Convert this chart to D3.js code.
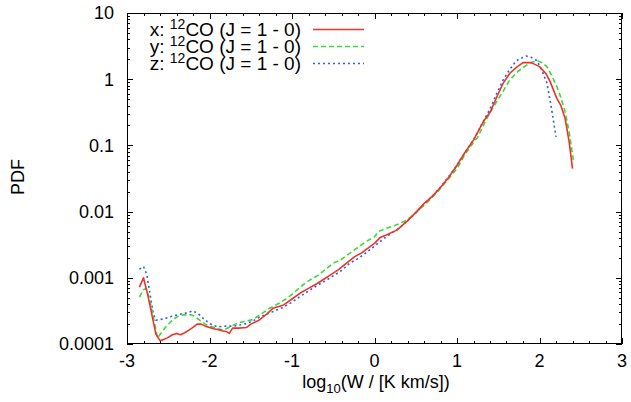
<!DOCTYPE html>
<html><head><meta charset="utf-8">
<script src="https://cdn.jsdelivr.net/npm/d3@7"></script>
<style>body{margin:0;background:#fff}svg{display:block}</style>
</head><body><svg id="c" width="631" height="402"></svg>
<script>
// log10(W) positions and log10(PDF) values
const xW = [-2.85,-2.80,-2.75,-2.70,-2.65,-2.60,-2.55,-2.50,-2.45,-2.40,-2.35,-2.30,-2.25,-2.20,-2.15,-2.10,-2.05,-2.00,-1.95,-1.90,-1.85,-1.80,-1.76,-1.72,-1.65,-1.55,-1.50,-1.40,-1.30,-1.23,-1.10,-1.00,-0.90,-0.80,-0.70,-0.60,-0.50,-0.44,-0.35,-0.24,-0.15,-0.10,0.00,0.07,0.15,0.27,0.40,0.51,0.60,0.70,0.81,0.90,1.00,1.10,1.20,1.32,1.40,1.50,1.56,1.64,1.72,1.80,1.90,2.00,2.08,2.13,2.21,2.26,2.31,2.36,2.40];
const xLogPdf = [-3.14,-3.00,-3.25,-3.55,-3.85,-3.95,-3.93,-3.90,-3.86,-3.84,-3.86,-3.83,-3.79,-3.75,-3.70,-3.70,-3.73,-3.75,-3.77,-3.78,-3.80,-3.81,-3.84,-3.76,-3.76,-3.75,-3.70,-3.64,-3.54,-3.46,-3.41,-3.32,-3.23,-3.16,-3.09,-3.01,-2.93,-2.88,-2.79,-2.68,-2.62,-2.57,-2.48,-2.39,-2.35,-2.28,-2.14,-2.00,-1.88,-1.77,-1.62,-1.48,-1.30,-1.10,-0.92,-0.64,-0.50,-0.22,-0.06,0.09,0.18,0.25,0.25,0.19,0.08,-0.04,-0.29,-0.40,-0.59,-0.95,-1.35];

const yW = [-2.85,-2.80,-2.77,-2.73,-2.68,-2.63,-2.56,-2.50,-2.44,-2.38,-2.32,-2.22,-2.17,-2.12,-2.05,-2.00,-1.90,-1.83,-1.75,-1.67,-1.58,-1.47,-1.38,-1.27,-1.15,-1.05,-0.98,-0.88,-0.78,-0.68,-0.58,-0.50,-0.40,-0.30,-0.20,-0.10,0.00,0.05,0.15,0.27,0.39,0.50,0.63,0.75,0.92,1.00,1.08,1.16,1.25,1.35,1.44,1.55,1.64,1.74,1.84,1.92,1.97,2.03,2.09,2.15,2.21,2.26,2.31,2.36,2.41];
const yLogPdf = [-3.29,-3.18,-3.16,-3.30,-3.60,-3.91,-3.79,-3.70,-3.63,-3.58,-3.56,-3.56,-3.59,-3.64,-3.70,-3.73,-3.77,-3.79,-3.74,-3.69,-3.66,-3.63,-3.55,-3.46,-3.38,-3.30,-3.23,-3.12,-3.03,-2.96,-2.86,-2.78,-2.72,-2.63,-2.54,-2.45,-2.38,-2.30,-2.25,-2.20,-2.13,-2.02,-1.87,-1.72,-1.47,-1.35,-1.17,-1.02,-0.88,-0.62,-0.42,-0.20,-0.01,0.12,0.21,0.26,0.28,0.25,0.19,0.05,-0.11,-0.28,-0.49,-0.80,-1.22];

const zW = [-2.85,-2.80,-2.76,-2.72,-2.68,-2.65,-2.60,-2.55,-2.48,-2.42,-2.36,-2.28,-2.20,-2.14,-2.07,-2.00,-1.91,-1.80,-1.71,-1.62,-1.55,-1.47,-1.39,-1.31,-1.23,-1.10,-1.00,-0.90,-0.80,-0.70,-0.60,-0.50,-0.40,-0.30,-0.20,-0.10,0.00,0.10,0.20,0.30,0.40,0.50,0.60,0.70,0.80,0.90,1.00,1.10,1.20,1.30,1.40,1.48,1.56,1.64,1.72,1.80,1.84,1.90,1.97,2.03,2.09,2.14,2.20];
const zLogPdf = [-2.87,-2.83,-2.95,-3.25,-3.55,-3.64,-3.63,-3.62,-3.59,-3.57,-3.55,-3.53,-3.50,-3.54,-3.62,-3.69,-3.74,-3.73,-3.73,-3.71,-3.69,-3.65,-3.59,-3.55,-3.51,-3.44,-3.37,-3.28,-3.20,-3.12,-3.05,-2.97,-2.89,-2.78,-2.71,-2.62,-2.52,-2.42,-2.33,-2.25,-2.14,-2.02,-1.89,-1.77,-1.63,-1.47,-1.30,-1.10,-0.92,-0.68,-0.45,-0.22,-0.01,0.15,0.28,0.33,0.35,0.33,0.28,0.13,-0.06,-0.40,-0.87];

const seriesNames = ["x: ", "y: ", "z: "];
const xTicks = [-3,-2,-1,0,1,2,3];
const yTicks = [0.0001,0.001,0.01,0.1,1,10];
const yTickLabels = ["0.0001","0.001","0.01","0.1","1","10"];

const L = 127, R = 622, T = 13, B = 344;
const FONT = "'Liberation Sans', Arial, Helvetica, sans-serif";
const svg = d3.select("#c");
const x = d3.scaleLinear().domain([-3,3]).range([L,R]);
const y = d3.scaleLog().domain([1e-4,10]).range([B,T]);

// ticks (inside, mirrored)
const g = svg.append("g").attr("stroke","#000").attr("stroke-width",1);
const crisp = v => Math.round(v) + 0.5;
const xMinor = d3.range(-3, 3.0001, 0.2).map(v => +v.toFixed(2)).filter(v => Math.abs(v - Math.round(v)) > 1e-6);
xMinor.forEach(v => {
  const px = crisp(x(v));
  g.append("line").attr("x1",px).attr("x2",px).attr("y1",B).attr("y2",B-3);
  g.append("line").attr("x1",px).attr("x2",px).attr("y1",T).attr("y2",T+3);
});
xTicks.forEach(v => {
  const px = crisp(x(v));
  g.append("line").attr("x1",px).attr("x2",px).attr("y1",B).attr("y2",B-6);
  g.append("line").attr("x1",px).attr("x2",px).attr("y1",T).attr("y2",T+6);
});
const yMinor = [];
yTicks.slice(0,-1).forEach(d => { for (let k=2;k<=9;k++) yMinor.push(d*k); });
yMinor.forEach(v => {
  const py = crisp(y(v));
  g.append("line").attr("x1",L).attr("x2",L+3).attr("y1",py).attr("y2",py);
  g.append("line").attr("x1",R).attr("x2",R-3).attr("y1",py).attr("y2",py);
});
yTicks.forEach(v => {
  const py = crisp(y(v));
  g.append("line").attr("x1",L).attr("x2",L+6).attr("y1",py).attr("y2",py);
  g.append("line").attr("x1",R).attr("x2",R-6).attr("y1",py).attr("y2",py);
});

// tick labels
svg.append("g").selectAll("text").data(xTicks).join("text")
  .attr("x", d => x(d)).attr("y", 367).attr("text-anchor","middle")
  .attr("font-family",FONT).attr("font-size",18).attr("fill","#000")
  .text(d => d);
svg.append("g").selectAll("text").data(yTicks).join("text")
  .attr("x", 114).attr("y", d => y(d)).attr("dy","0.35em").attr("text-anchor","end")
  .attr("font-family",FONT).attr("font-size",18).attr("fill","#000")
  .text((d,i) => yTickLabels[i]);

// axis titles
const xt = svg.append("text").attr("x",376).attr("y",388).attr("text-anchor","middle")
  .attr("font-family",FONT).attr("font-size",18).attr("fill","#000");
xt.append("tspan").text("log");
xt.append("tspan").attr("font-size",13).attr("dy",5).text("10");
xt.append("tspan").attr("dy",-5).text("(W / [K km/s])");
svg.append("text").attr("transform","translate(24,177) rotate(-90)").attr("text-anchor","middle")
  .attr("font-family",FONT).attr("font-size",18).attr("fill","#000").text("PDF");

// curves
const series = [
  {w:xW, p:xLogPdf, color:"#ee3328", dash:null},
  {w:yW, p:yLogPdf, color:"#3fd83a", dash:"5,3"},
  {w:zW, p:zLogPdf, color:"#2a5fe8", dash:"2,3"}
];
const line = d3.line().x(d => x(d[0])).y(d => y(d[1]));
svg.append("clipPath").attr("id","pc").append("rect")
  .attr("x",L).attr("y",T).attr("width",R-L).attr("height",B-T);
series.slice().reverse().forEach(s => {
  const pts = s.w.map((w,i) => [w, Math.pow(10, s.p[i])]);
  svg.append("path").attr("d", line(pts)).attr("fill","none")
    .attr("stroke", s.color).attr("stroke-width",1.6)
    .attr("stroke-dasharray", s.dash).attr("stroke-linejoin","round")
    .attr("clip-path","url(#pc)");
});

// frame
svg.append("rect").attr("x",L+0.5).attr("y",T+0.5).attr("width",R-L-1).attr("height",B-T-1)
  .attr("fill","none").attr("stroke","#000").attr("stroke-width",1);

// legend
const legY = [29.5, 46.5, 63.5];
series.forEach((s,i) => {
  const t = svg.append("text").attr("x",301).attr("y",legY[i]+6.5).attr("text-anchor","end")
    .attr("font-family",FONT).attr("font-size",19).attr("fill","#000");
  t.append("tspan").text(seriesNames[i]);
  t.append("tspan").attr("font-size",14).attr("dy",-7).text("12");
  t.append("tspan").attr("dy",7).text("CO (J = 1 - 0)");
  svg.append("line").attr("x1",313).attr("x2",364).attr("y1",legY[i]).attr("y2",legY[i])
    .attr("stroke",s.color).attr("stroke-width",1.6).attr("stroke-dasharray",s.dash);
});
</script></body></html>
